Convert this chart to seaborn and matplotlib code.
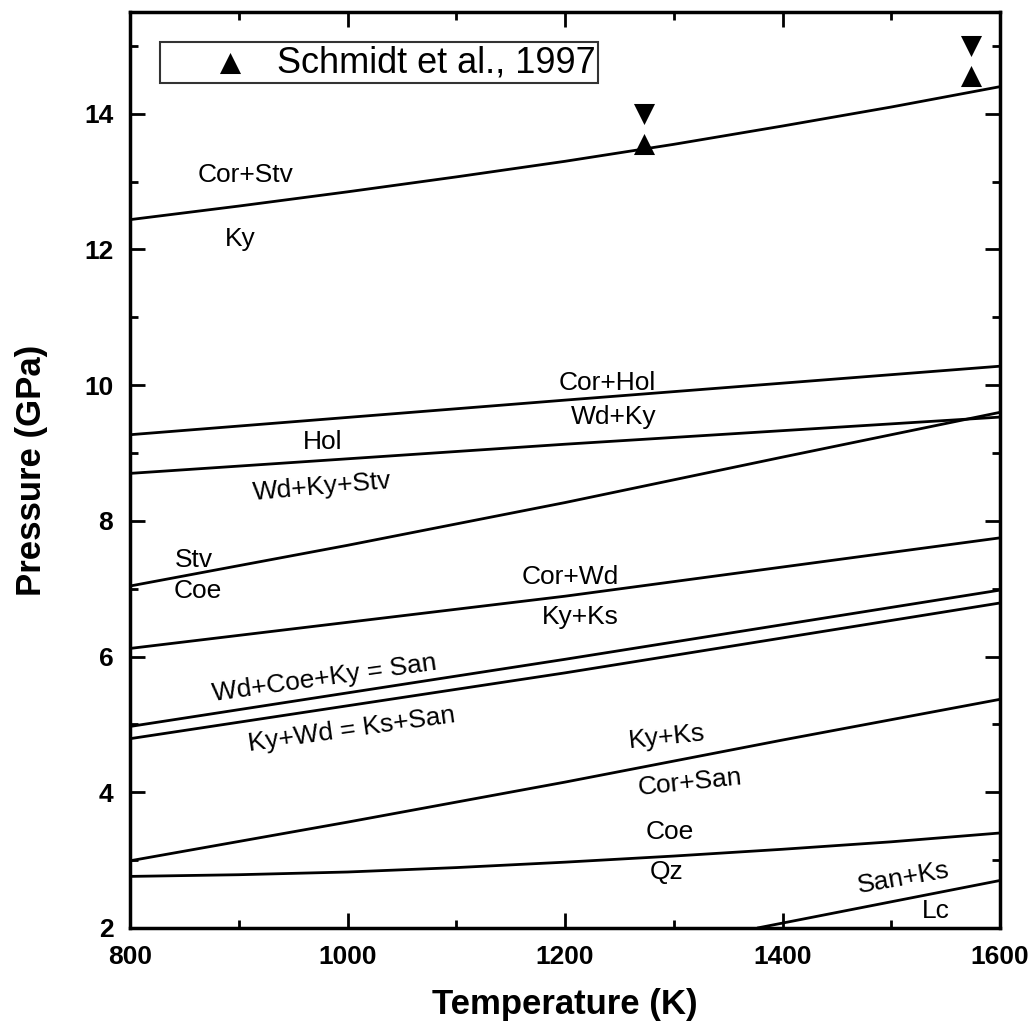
import matplotlib
matplotlib.use("Agg")
import matplotlib.pyplot as plt
import seaborn as sns
import pandas as pd
from matplotlib.ticker import MultipleLocator

# Phase boundaries: temperature (K) and pressure (GPa)
t_cor_stv = [800, 900, 1000, 1100, 1200, 1300, 1400, 1500, 1600]
p_cor_stv = [12.44, 12.64, 12.85, 13.07, 13.30, 13.55, 13.82, 14.10, 14.40]

t_cor_hol = [800, 1200, 1600]
p_cor_hol = [9.27, 9.78, 10.28]

t_hol = [800, 1200, 1600]
p_hol = [8.70, 9.13, 9.53]

t_stv_coe = [800, 1000, 1200, 1400, 1600]
p_stv_coe = [7.04, 7.64, 8.27, 8.94, 9.60]

t_cor_wd = [800, 1200, 1600]
p_cor_wd = [6.12, 6.89, 7.75]

t_wd_coe_ky = [800, 1200, 1600]
p_wd_coe_ky = [4.97, 5.96, 6.98]

t_ky_wd = [800, 1200, 1600]
p_ky_wd = [4.79, 5.76, 6.79]

t_ky_ks = [800, 1000, 1200, 1400, 1600]
p_ky_ks = [2.99, 3.56, 4.15, 4.77, 5.37]

t_coe_qz = [800, 900, 1000, 1100, 1200, 1300, 1400, 1500, 1600]
p_coe_qz = [2.76, 2.785, 2.825, 2.89, 2.97, 3.06, 3.16, 3.27, 3.40]

t_san_lc = [1377, 1600]
p_san_lc = [2.00, 2.70]

# Schmidt et al. (1997) experiments
t_exp = [1273, 1573]
p_exp_up = [13.55, 14.55]
p_exp_down = [14.00, 15.00]

# Field labels: text, T, P, rotation
lbl_text = ["Cor+Stv", "Ky", "Cor+Hol", "Wd+Ky", "Hol", "Wd+Ky+Stv", "Stv", "Coe",
            "Cor+Wd", "Ky+Ks", "Wd+Coe+Ky = San", "Ky+Wd = Ks+San", "Ky+Ks",
            "Cor+San", "Coe", "Qz", "San+Ks", "Lc"]
lbl_t = [906, 901, 1239, 1245, 977, 977, 859, 862, 1205, 1214, 979, 1004,
         1294, 1315, 1296, 1293, 1511, 1541]
lbl_p = [13.10, 12.16, 10.03, 9.53, 9.17, 8.50, 7.43, 6.96, 7.17, 6.58, 5.68,
         4.92, 4.81, 4.14, 3.41, 2.82, 2.74, 2.25]
lbl_rot = [0, 0, 0, 0, 0, 5, 0, 0, 0, 0, 8, 8, 6, 6, 0, 0, 10, 0]

sns.set_theme(style="ticks")
plt.rcParams["font.family"] = ["Liberation Sans", "DejaVu Sans"]
plt.rcParams.update({"text.color": "black", "axes.labelcolor": "black",
                     "xtick.color": "black", "ytick.color": "black",
                     "xtick.labelcolor": "black", "ytick.labelcolor": "black"})

fig = plt.figure(figsize=(10.35, 10.28), dpi=100)
ax = fig.add_axes([0.1256, 0.0973, 0.8406, 0.891])

curves = [(t_cor_stv, p_cor_stv), (t_cor_hol, p_cor_hol), (t_hol, p_hol),
          (t_stv_coe, p_stv_coe), (t_cor_wd, p_cor_wd), (t_wd_coe_ky, p_wd_coe_ky),
          (t_ky_wd, p_ky_wd), (t_ky_ks, p_ky_ks), (t_coe_qz, p_coe_qz),
          (t_san_lc, p_san_lc)]
for t, p in curves:
    df = pd.DataFrame({"T": t, "P": p})
    sns.lineplot(data=df, x="T", y="P", ax=ax, color="black", linewidth=2.0,
                 estimator=None, sort=False, legend=False)

df_up = pd.DataFrame({"T": t_exp, "P": p_exp_up})
df_dn = pd.DataFrame({"T": t_exp, "P": p_exp_down})
sns.scatterplot(data=df_up, x="T", y="P", ax=ax, marker="^", s=230,
                color="black", edgecolor="black", linewidth=0,
                label="Schmidt et al., 1997", zorder=5)
sns.scatterplot(data=df_dn, x="T", y="P", ax=ax, marker="v", s=230,
                color="black", edgecolor="black", linewidth=0, zorder=5)

for txt, t, p, r in zip(lbl_text, lbl_t, lbl_p, lbl_rot):
    ax.text(t, p, txt, ha="center", va="center", rotation=r,
            rotation_mode="anchor", fontsize=19, color="black")

ax.set_xlim(800, 1600)
ax.set_ylim(2, 15.5)
ax.xaxis.set_major_locator(MultipleLocator(200))
ax.xaxis.set_minor_locator(MultipleLocator(100))
ax.yaxis.set_major_locator(MultipleLocator(2))
ax.yaxis.set_minor_locator(MultipleLocator(1))

for s in ax.spines.values():
    s.set_visible(True)
    s.set_linewidth(2.5)
    s.set_color("black")

ax.tick_params(which="both", direction="in", top=True, right=True,
               color="black", width=2.0, labelcolor="black")
ax.tick_params(which="major", length=11, labelsize=19)
ax.tick_params(axis="x", which="major", pad=12)
ax.tick_params(axis="y", which="major", pad=12)
ax.tick_params(which="minor", length=6)
for lab in ax.get_xticklabels() + ax.get_yticklabels():
    lab.set_fontweight("bold")

ax.set_xlabel("Temperature (K)", fontsize=25, fontweight="bold", labelpad=14,
              color="black")
ax.set_ylabel("Pressure (GPa)", fontsize=25, fontweight="bold", labelpad=26,
              color="black")

leg = ax.legend(loc="upper left", bbox_to_anchor=(0.0345, 0.967), fontsize=26,
                frameon=True, fancybox=False, edgecolor="black",
                handletextpad=-0.55, borderpad=0.08, markerscale=1.0,
                handlelength=3.7, borderaxespad=0)
leg.get_frame().set_linewidth(1.5)
for txt in leg.get_texts():
    txt.set_color("black")

fig.savefig("out.png", dpi=100)
